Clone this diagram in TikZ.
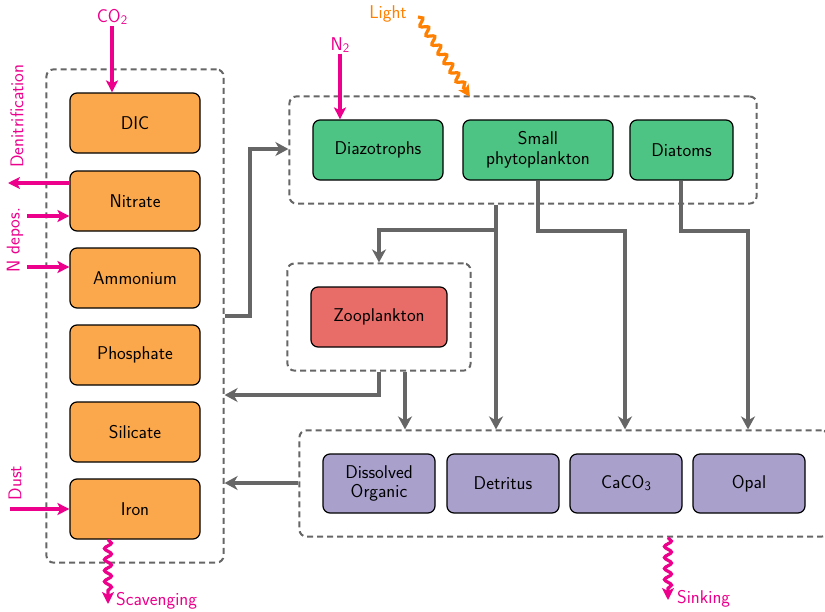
\documentclass[tikz,border=0pt]{standalone}
\usetikzlibrary{arrows.meta,fit,decorations.pathmorphing}
\definecolor{orfill}{RGB}{251,168,76}
\definecolor{grfill}{RGB}{78,196,132}
\definecolor{rdfill}{RGB}{232,108,104}
\definecolor{pufill}{RGB}{169,160,204}
\definecolor{mag}{RGB}{236,0,140}
\definecolor{lightc}{RGB}{255,128,0}
\definecolor{gline}{RGB}{102,102,102}
\newcommand{\sbs}[1]{\raisebox{-0.25ex}{\fontsize{13}{14}\selectfont #1}}
\begin{document}
\begin{tikzpicture}[x=1pt,y=-1pt,
  font=\sffamily\fontsize{18.5}{22}\selectfont,
  pbox/.style={draw=black,line width=1.2pt,rounded corners=7pt,minimum height=60pt,align=center,inner sep=2pt},
  obox/.style={pbox,fill=orfill,minimum width=130pt},
  gbox/.style={pbox,fill=grfill},
  zbox/.style={pbox,fill=rdfill,minimum width=136pt},
  vbox/.style={pbox,fill=pufill,minimum width=112pt,minimum height=59pt},
  dbox/.style={draw=gline,line width=2pt,dash pattern=on 6pt off 4pt,rounded corners=7pt,inner sep=23pt},
  garr/.style={draw=gline,line width=3.6pt,-{Stealth[length=13pt,width=14pt,inset=4pt]}},
  marr/.style={draw=mag,line width=3.2pt,-{Stealth[length=12pt,width=12pt,inset=3pt]}},
  snk/.style={decorate,decoration={snake,amplitude=3.5pt,segment length=11pt,post length=10pt}},
  mlab/.style={text=mag,inner sep=1pt}
]
\useasboundingbox (0,0) rectangle (825,611);

% nutrient boxes
\node[obox] (dic) at (135,123) {DIC};
\node[obox] (nit) at (135,201) {Nitrate};
\node[obox] (amm) at (135,278) {Ammonium};
\node[obox] (pho) at (135,355) {Phosphate};
\node[obox] (sil) at (135,432) {Silicate};
\node[obox] (iro) at (135,509) {Iron};
\node[dbox,fit=(dic)(iro)] (lbox) {};

% phytoplankton
\node[gbox,minimum width=130pt] (diaz) at (378,150) {Diazotrophs};
\node[gbox,minimum width=150pt] (small) at (538,150) {Small\\[-2pt]phytoplankton};
\node[gbox,minimum width=103pt] (diat) at (681.5,150) {Diatoms};
\node[dbox,fit=(diaz)(small)(diat)] (gbx) {};

% zooplankton
\node[zbox] (zoo) at (379,317) {Zooplankton};
\node[dbox,fit=(zoo)] (zbx) {};

% detritus
\node[vbox] (dom) at (379,483.5) {Dissolved\\[-3pt]Organic};
\node[vbox] (det) at (503,483.5) {Detritus};
\node[vbox] (cac) at (626,483.5) {CaCO\sbs{3}};
\node[vbox] (opa) at (749,483.5) {Opal};
\node[dbox,fit=(dom)(opa)] (pbx) {};

% external labels
\node[mlab] (co2) at (112,17) {CO\sbs{2}};
\node[mlab] (n2) at (340,45) {N\sbs{2}};
\node[text=lightc,inner sep=1pt] (light) at (388,14) {Light};
\node[mlab,rotate=90] (denl) at (17,116) {Denitrification};
\node[mlab,rotate=90] (ndep) at (15,240) {N depos.};
\node[mlab,rotate=90] (dust) at (15,483) {Dust};
\node[mlab,anchor=west] (scav) at (115,601) {Scavenging};
\node[mlab,anchor=west] (sink) at (676,599) {Sinking};

\coordinate (denend) at (8,183);
\coordinate (nd1) at (27,216);
\coordinate (nd2) at (27,267);
\coordinate (dustst) at (10,509);
\coordinate (lightst) at (418,17);
\coordinate (lightend) at (470,97);
\coordinate (scavend) at (108,604);
\coordinate (sinkend) at (668,600);

% magenta arrows
\draw[marr] (co2.south) -- (co2.south |- dic.north);
\draw[marr] (n2.south) -- (n2.south |- diaz.north);
\draw[marr] (nit.west |- denend) -- (denend);
\draw[marr] (nd1) -- (nit.west |- nd1);
\draw[marr] (nd2) -- (amm.west |- nd2);
\draw[marr] (dustst) -- (iro.west |- dustst);
\draw[marr,snk] (scavend |- iro.south) -- (scavend);
\draw[marr,snk] (sinkend |- pbx.south) -- (sinkend);
\draw[marr,draw=lightc,snk] (lightst) -- (lightend);

% gray connectors
\draw[garr] (lbox.east |- 0,316) -- (250,316) -- (250,149) -- (gbx.west |- 0,149);
\draw[garr] (496,0 |- gbx.south) -- (496,0 |- pbx.north);
\draw[garr] (496,230) -- (379,230) -- (379,0 |- zbx.north);
\draw[garr] (538,0 |- small.south) -- (538,231) -- (625,231) -- (625,0 |- pbx.north);
\draw[garr] (681,0 |- diat.south) -- (681,231) -- (748,231) -- (748,0 |- pbx.north);
\draw[garr] (405,0 |- zbx.south) -- (405,0 |- pbx.north);
\draw[garr] (379,0 |- zbx.south) -- (379,395) -- (lbox.east |- 0,395);
\draw[garr] (pbx.west |- 0,483) -- (lbox.east |- 0,483);
\end{tikzpicture}
\end{document}
